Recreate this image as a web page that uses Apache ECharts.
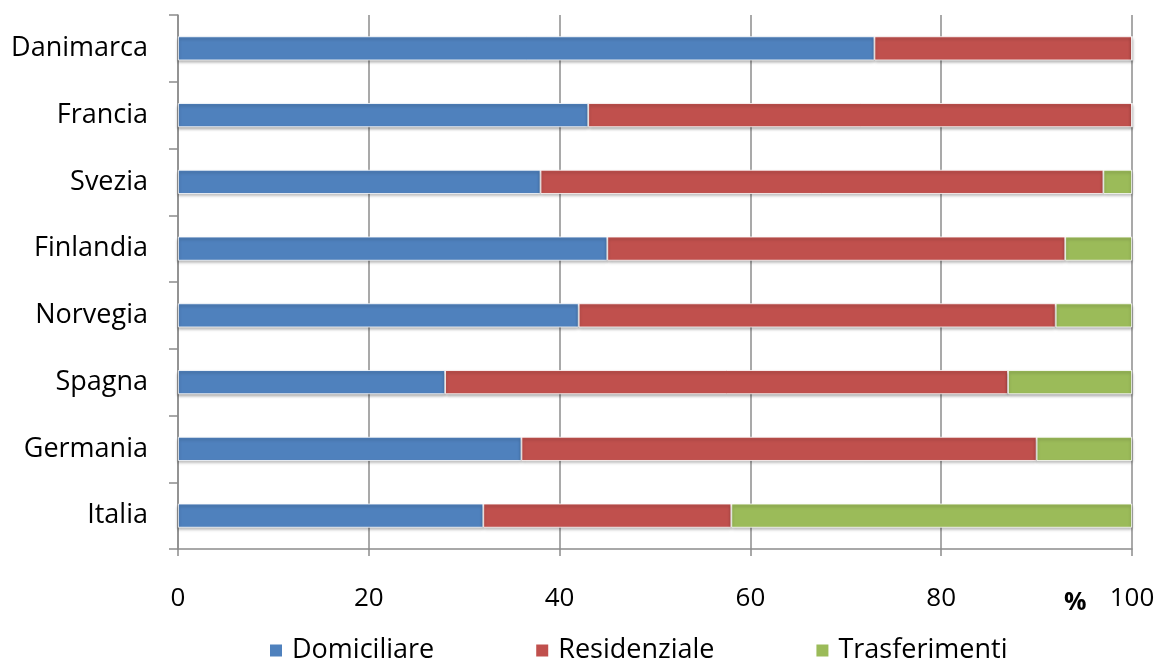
<!DOCTYPE html>
<html><head><meta charset="utf-8">
<script src="https://cdn.jsdelivr.net/npm/echarts@6/dist/echarts.min.js"></script>
<style>html,body{margin:0;padding:0;background:#fff}#c{width:1162px;height:664px}</style>
</head><body><div id="c"></div>
<script>
const categories = ['Danimarca','Francia','Svezia','Finlandia','Norvegia','Spagna','Germania','Italia'];
const domiciliare = [73, 43, 38, 45, 42, 28, 36, 32];
const residenziale = [27, 57, 59, 48, 50, 59, 54, 26];
const trasferimenti = [0, 0, 3, 7, 8, 13, 10, 42];
const xTicks = [0, 20, 40, 60, 80, 100];
const seriesNames = ['Domiciliare','Residenziale','Trasferimenti'];
const colors = ['#4F81BD','#C0504D','#9BBB59'];

const font = '"Open Sans", Lato, sans-serif';
const chart = echarts.init(document.getElementById('c'));
const mk = (name, data, color) => ({
  name, type: 'bar', stack: 'tot', data, barCategoryGap: '64%',
  itemStyle: { color, borderColor: '#fff', borderWidth: 0.8,
    shadowColor: 'rgba(0,0,0,0.35)', shadowBlur: 3, shadowOffsetY: 2 },
  emphasis: { disabled: true }
});
chart.setOption({
  animation: false,
  grid: { left: 178, right: 30, top: 15, bottom: 115 },
  xAxis: {
    type: 'value', min: 0, max: 100, interval: 20,
    axisLine: { show: true, lineStyle: { color: '#8c8c8c', width: 1.5 } },
    axisTick: { show: true, length: 7, lineStyle: { color: '#8c8c8c', width: 1.5 } },
    axisLabel: { fontSize: 26, color: '#000', fontFamily: font, margin: 37,
      formatter: v => xTicks.includes(v) ? String(v) : '' },
    splitLine: { show: true, lineStyle: { color: '#8c8c8c', width: 1.5 } }
  },
  yAxis: {
    type: 'category', data: categories, inverse: true,
    axisLine: { show: true, lineStyle: { color: '#8c8c8c', width: 1.5 } },
    axisTick: { show: true, length: 9, lineStyle: { color: '#8c8c8c', width: 1.5 } },
    axisLabel: { fontSize: 27, color: '#000', fontFamily: font, margin: 30 }
  },
  legend: {
    top: 632, left: 263, itemWidth: 14, itemHeight: 14, itemGap: 100,
    icon: 'rect', data: seriesNames,
    textStyle: { fontSize: 27, color: '#000', fontFamily: font, padding: [0,0,0,4] }
  },
  graphic: [{ type: 'text', left: 1064, top: 590,
    style: { text: '%', fontSize: 25, fontWeight: 'bold', fill: '#000', fontFamily: font } }],
  series: [
    mk(seriesNames[0], domiciliare, colors[0]),
    mk(seriesNames[1], residenziale, colors[1]),
    mk(seriesNames[2], trasferimenti, colors[2])
  ]
});
</script></body></html>
